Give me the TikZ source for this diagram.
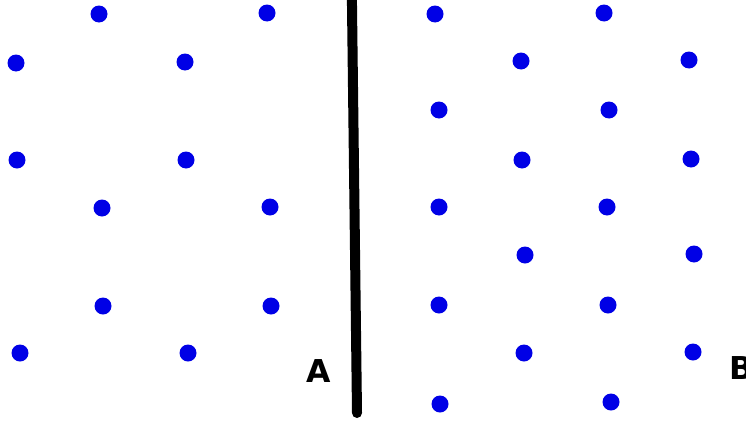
\documentclass[tikz,border=0pt]{standalone}
\usepackage{fontspec}
\setmainfont{DejaVu Sans}
\begin{document}
\begin{tikzpicture}[x=1pt,y=-1pt,
  dot/.style={circle,fill={rgb,255:red,0;green,0;blue,230},inner sep=0pt,minimum size=17pt},
  lab/.style={font=\fontsize{31.5}{36}\selectfont\bfseries,inner sep=0pt}]
\useasboundingbox (0,0) rectangle (746,423);
\clip (0,0) rectangle (746,423);
% left dots
\foreach \x/\y [count=\i] in {99/14,267/13,16/63,185/62,17/160,186/160,102/208,270/207,103/306,271/306,20/353,188/353}
  \node[dot] (l\i) at (\x,\y) {};
% right dots
\foreach \x/\y [count=\i] in {435/14,604/13,521/61,689/60,439/110,609/110,522/160,691/159,439/207,607/207,525/255,694/254,439/305,608/305,524/353,693/352,440/404,611/402}
  \node[dot] (r\i) at (\x,\y) {};
\coordinate (top) at (351.8,-10);
\coordinate (bot) at (357,413);
\draw[line width=10pt,line cap=round] (top) -- (bot);
\node[lab] (A) at (318.5,371.5) {A};
\node[lab,anchor=west] (B) at (729,368.5) {B};
\end{tikzpicture}
\end{document}
